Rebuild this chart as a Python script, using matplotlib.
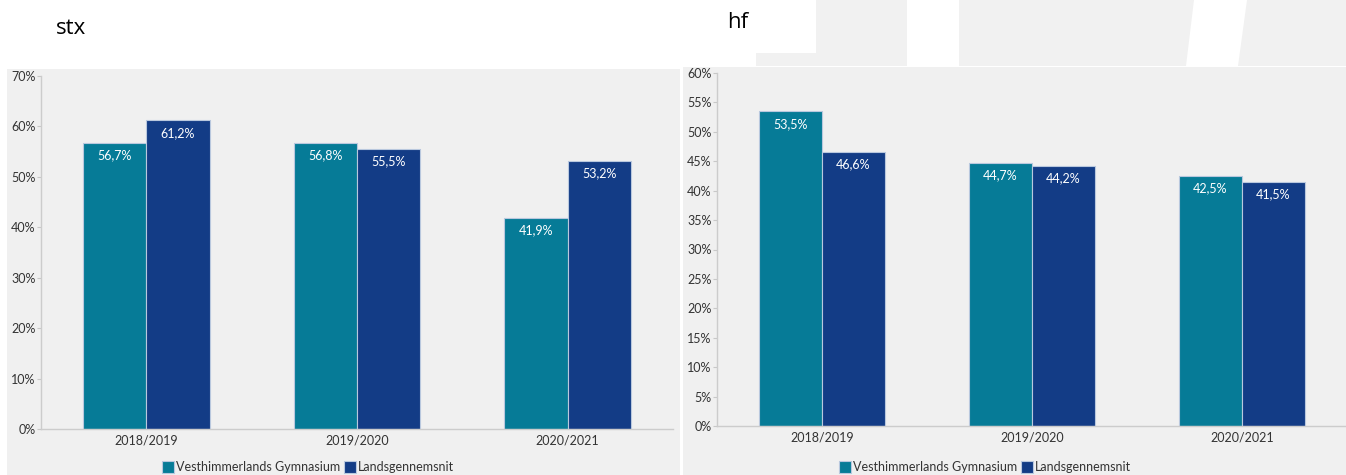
import matplotlib.pyplot as plt
from matplotlib.patches import Rectangle, Polygon
from matplotlib.ticker import MultipleLocator, FuncFormatter

# ── Data ───────────────────────────────────────────────────
years      = ['2018/2019', '2019/2020', '2020/2021']
stx_school = [56.7, 56.8, 41.9]
stx_land   = [61.2, 55.5, 53.2]
hf_school  = [53.5, 44.7, 42.5]
hf_land    = [46.6, 44.2, 41.5]
series_names = ['Vesthimmerlands Gymnasium', 'Landsgennemsnit']

# ── Style ──────────────────────────────────────────────────
W, H   = 1346, 475
TEAL   = '#067b97'
NAVY   = '#133c86'
PANEL  = '#f0f0f0'
EDGE   = '#b9c8de'
TXT    = '#333333'
plt.rcParams['font.family'] = ['Lato', 'DejaVu Sans']

fig = plt.figure(figsize=(W / 100, H / 100), dpi=100, facecolor='white')


def px_rect(x0, y0, x1, y1, **kw):
    # rectangle in pixel coords (top-left origin)
    fig.patches.append(Rectangle((x0 / W, 1 - y1 / H), (x1 - x0) / W, (y1 - y0) / H,
                                 transform=fig.transFigure, zorder=-5, **kw))


def px_axes(x0, y0, x1, y1):
    ax = fig.add_axes([x0 / W, 1 - y1 / H, (x1 - x0) / W, (y1 - y0) / H])
    ax.set_zorder(2)
    return ax


# background panels
px_rect(7, 69, 680, 475, facecolor=PANEL, lw=0)
px_rect(683, 67, 1346, 475, facecolor=PANEL, lw=0)
# decorative top band behind "hf"
px_rect(756, 0, 1346, 66, facecolor='#f1f1f1', lw=0)
px_rect(700, 0, 816, 53, facecolor='white', lw=0)
px_rect(907, 0, 959, 66, facecolor='white', lw=0)
fig.patches.append(Polygon([(1194 / W, 1), (1247 / W, 1), (1238 / W, 1 - 66 / H), (1186 / W, 1 - 66 / H)],
                           closed=True, transform=fig.transFigure, facecolor='white', lw=0, zorder=-5))

fig.text(56 / W, 1 - 28 / H, 'stx', fontsize=16, family=['Open Sans', 'DejaVu Sans'],
         color='black', va='center', ha='left')
fig.text(727 / W, 1 - 23 / H, 'hf', fontsize=16, family=['Open Sans', 'DejaVu Sans'],
         color='black', va='center', ha='left')


def pct(v):
    return f'{v:.1f}'.replace('.', ',') + '%'


def draw(ax, school, land, ymax, step):
    x = list(range(len(years)))
    w = 0.3
    b1 = ax.bar([i - w / 2 for i in x], school, w, color=TEAL, edgecolor=EDGE, lw=0.8, zorder=2)
    b2 = ax.bar([i + w / 2 for i in x], land, w, color=NAVY, edgecolor=EDGE, lw=0.8, zorder=2)
    for bars, vals in ((b1, school), (b2, land)):
        for b, v in zip(bars, vals):
            ax.annotate(pct(v), (b.get_x() + b.get_width() / 2, v), xytext=(0, -9),
                        textcoords='offset points', ha='center', va='center',
                        color='white', fontsize=9, zorder=3)
    ax.set_facecolor(PANEL)
    ax.set_xlim(-0.5, 2.5)
    ax.set_ylim(0, ymax)
    ax.yaxis.set_major_locator(MultipleLocator(step))
    ax.yaxis.set_major_formatter(FuncFormatter(lambda v, p: f'{v:.0f}%'))
    ax.set_xticks(x)
    ax.set_xticklabels(years)
    ax.tick_params(axis='y', length=3, width=0.8, color='#c8c8c8', pad=1,
                   labelsize=9, labelcolor=TXT)
    ax.tick_params(axis='x', length=0, pad=4, labelsize=9, labelcolor=TXT)
    for s in ('top', 'right'):
        ax.spines[s].set_visible(False)
    for s in ('left', 'bottom'):
        ax.spines[s].set_color('#cccccc')
        ax.spines[s].set_linewidth(1)
    ax.spines['left'].set_zorder(4)
    return b1, b2


ax1 = px_axes(41, 76, 673, 429)
h1 = draw(ax1, stx_school, stx_land, 70, 10)
ax2 = px_axes(717, 73, 1347, 426)
h2 = draw(ax2, hf_school, hf_land, 60, 5)

for hb, cx in ((h1, 308), (h2, 985)):
    leg = fig.legend(hb, series_names, loc='center', bbox_to_anchor=(cx / W, 1 - 467 / H),
                     ncol=2, frameon=False, fontsize=9, labelcolor=TXT,
                     handlelength=1.0, handleheight=1.2, handletextpad=0.15,
                     columnspacing=0.3, borderpad=0)
    leg.set_zorder(3)

fig.savefig('out.png', dpi=100, facecolor='white')
